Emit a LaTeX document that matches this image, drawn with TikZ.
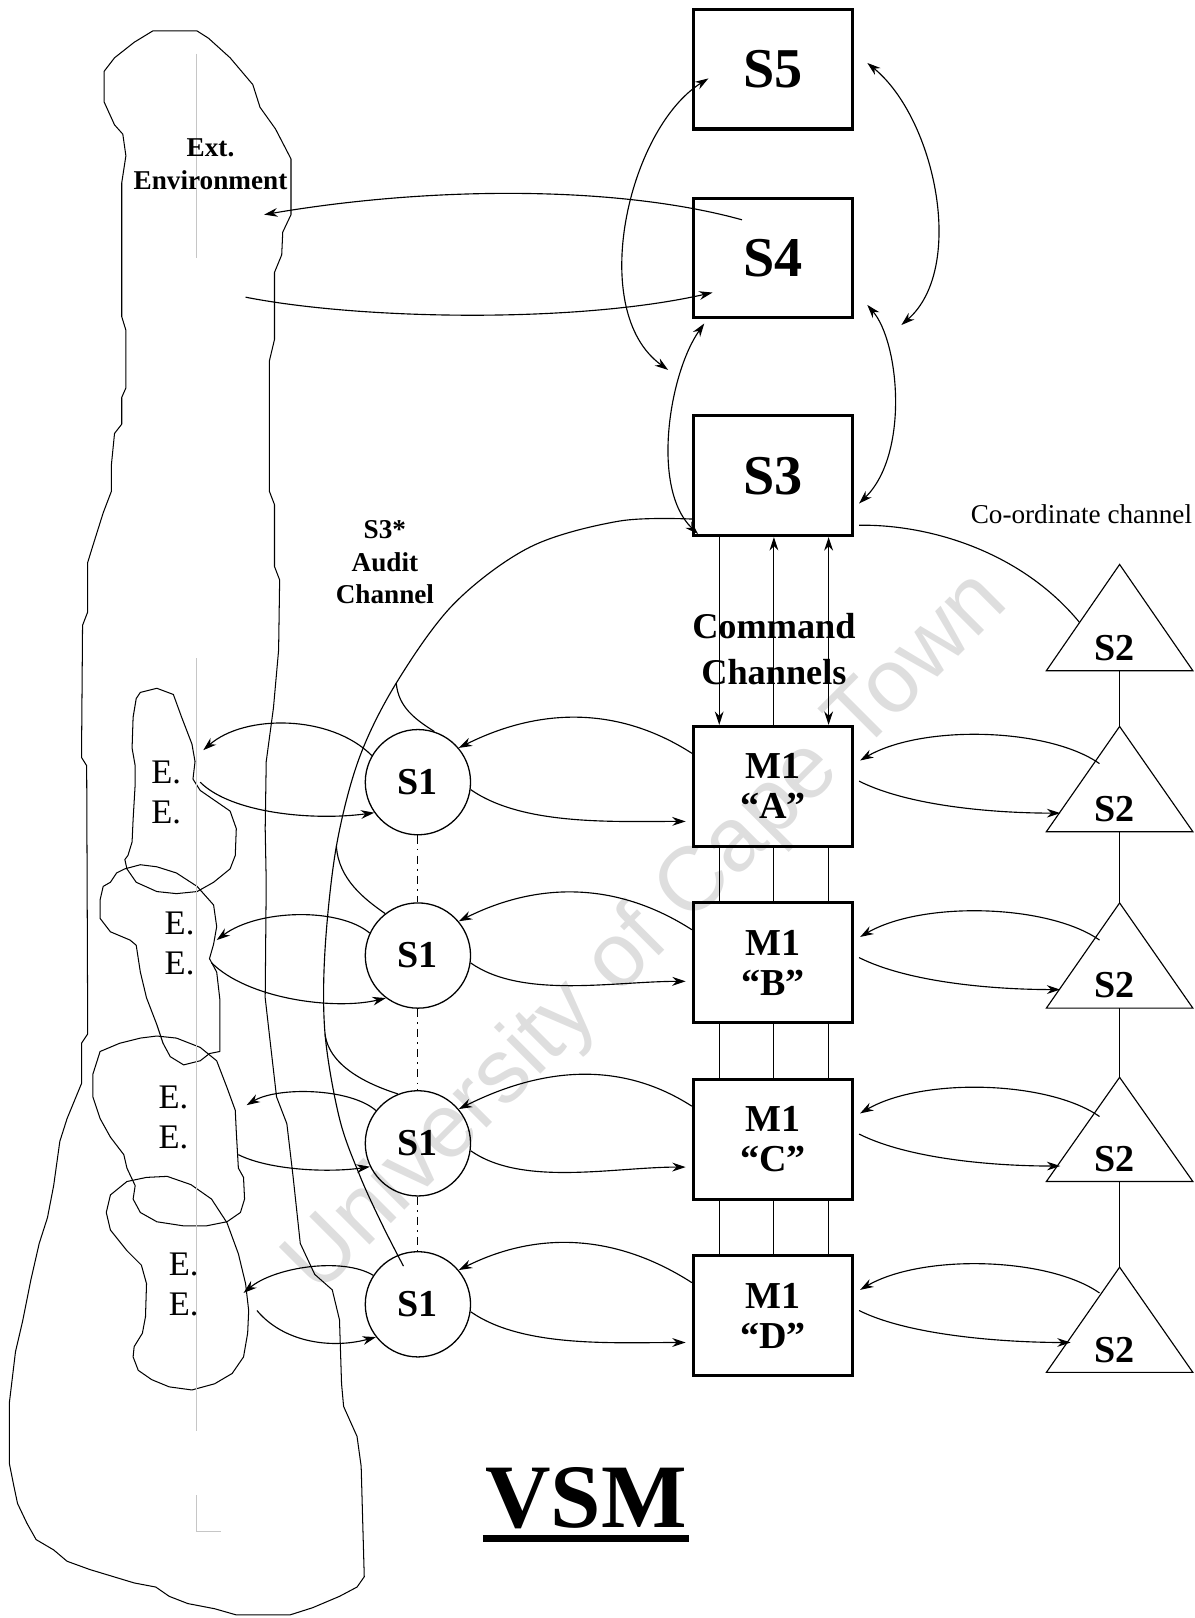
\documentclass[tikz,border=0pt]{standalone}
\usepackage{fontspec}
\setmainfont{Liberation Serif}
\newfontfamily\wmfont{Liberation Sans}
\usetikzlibrary{arrows.meta}

\tikzset{
  sysbox/.style={draw, line width=0.6mm, minimum width=30.8mm, minimum height=23.2mm,
    inner sep=0pt, align=center, font=\bfseries\fontsize{31}{31}\selectfont},
  opbox/.style={sysbox, font=\bfseries\fontsize{21}{22}\selectfont},
  unit/.style={circle, draw, line width=0.25mm, minimum size=20.4mm, inner sep=0pt,
    font=\bfseries\fontsize{21}{21}\selectfont},
  arr/.style={line width=0.22mm, -{Stealth[length=2.6mm, width=1.7mm]}},
  darr/.style={line width=0.22mm, {Stealth[length=2.6mm, width=1.7mm]}-{Stealth[length=2.6mm, width=1.7mm]}},
  link/.style={line width=0.22mm},
  unitlink/.style={line width=0.22mm, dash pattern=on 1.6mm off 1mm on 0.3mm off 1mm},
  tri/.style={line width=0.22mm, line join=miter},
  blob/.style={line width=0.2mm, line join=round},
  crop/.style={gray!45, line width=0.15mm},
  ee/.style={align=center, font=\fontsize{19}{22}\selectfont},
  note/.style={align=center, font=\bfseries\fontsize{15}{18}\selectfont},
  s2lbl/.style={font=\bfseries\fontsize{21}{21}\selectfont},
}

\begin{document}
\begin{tikzpicture}[x=0.2mm, y=-0.2mm]
  \useasboundingbox (0,0) rectangle (1158,1568);

  % watermark
  \node[rotate=45, text=black!13, font=\wmfont\fontsize{50}{50}\selectfont] (wm) at (628,905) {University of Cape Town};

  % external environment
  \draw[blob] (148,30) -- (191,30) -- (202,37) -- (223,56) -- (245,82) -- (252,104) -- (267,125)
    -- (282,154) -- (282,208) -- (274,225) -- (273,247) -- (266,264) -- (266,329) -- (261,350)
    -- (261,476) -- (266,489) -- (266,549) -- (271,562) -- (270,630) -- (265,686) -- (258,738)
    -- (257,803) -- (258,855) -- (257,967) -- (262,1011) -- (268,1063) -- (278,1089) -- (284,1140)
    -- (291,1205) -- (305,1235) -- (322,1250) -- (329,1279) -- (331,1341) -- (333,1363) -- (346,1392)
    -- (350,1421) -- (353,1528) -- (346,1538) -- (329,1547) -- (303,1558) -- (281,1565) -- (229,1565)
    -- (208,1559) -- (182,1554) -- (164,1547) -- (151,1538) -- (130,1534) -- (87,1521) -- (65,1513)
    -- (52,1502) -- (35,1492) -- (26,1476) -- (17,1457) -- (13,1438) -- (9,1418) -- (9,1360)
    -- (15,1310) -- (22,1280) -- (30,1240) -- (38,1205) -- (46,1180) -- (52,1149) -- (58,1106)
    -- (65,1084) -- (79,1050) -- (79,1011) -- (85,1002) -- (84,742) -- (79,734) -- (80,606)
    -- (85,593) -- (85,545) -- (89,532) -- (100,497) -- (108,476) -- (108,450) -- (111,420)
    -- (118,411) -- (118,385) -- (122,376) -- (122,320) -- (118,307) -- (118,177) -- (122,151)
    -- (119,130) -- (111,121) -- (101,99) -- (101,69) -- (111,56) -- (130,41) -- cycle;

  % local environments
  \draw[blob] (136,671) -- (152,667) -- (168,673) -- (176,695) -- (186,721) -- (189,738) -- (187,755)
    -- (194,766) -- (223,786) -- (229,803) -- (228,829) -- (223,842) -- (207,855) -- (191,864)
    -- (171,866) -- (152,864) -- (132,855) -- (123,842) -- (121,833) -- (124,829) -- (128,816)
    -- (129,794) -- (131,760) -- (131,742) -- (128,725) -- (129,695) -- (132,677) -- cycle;
  \draw[blob] (100,859) -- (107,855) -- (113,846) -- (121,842) -- (136,838) -- (152,840) -- (171,846)
    -- (191,859) -- (207,877) -- (210,898) -- (207,915) -- (203,929) -- (210,942) -- (213,968)
    -- (213,1019) -- (203,1021) -- (194,1028) -- (178,1032) -- (165,1024) -- (158,1011) -- (152,993)
    -- (142,967) -- (136,942) -- (132,916) -- (126,911) -- (107,903) -- (97,890) -- (97,872) -- cycle;
  \draw[blob] (90,1041) -- (97,1019) -- (116,1011) -- (136,1006) -- (152,1004) -- (171,1006) -- (194,1015)
    -- (210,1028) -- (220,1054) -- (228,1076) -- (229,1097) -- (231,1132) -- (236,1141) -- (237,1162)
    -- (233,1175) -- (220,1184) -- (200,1188) -- (178,1188) -- (152,1184) -- (136,1175) -- (129,1162)
    -- (131,1149) -- (123,1132) -- (120,1119) -- (107,1102) -- (97,1084) -- (90,1063) -- cycle;
  \draw[blob] (107,1158) -- (123,1145) -- (142,1141) -- (162,1140) -- (185,1148) -- (205,1162) -- (220,1185)
    -- (231,1215) -- (238,1244) -- (241,1270) -- (240,1292) -- (236,1315) -- (225,1331) -- (208,1341)
    -- (186,1347) -- (164,1344) -- (147,1337) -- (134,1328) -- (129,1315) -- (130,1305) -- (138,1292)
    -- (141,1276) -- (142,1244) -- (137,1226) -- (123,1212) -- (107,1192) -- (103,1175) -- cycle;

  % crop lines
  \draw[crop] (190,52) -- (190,250);
  \draw[crop] (190,638) -- (190,1387);
  \draw[crop] (190,1449) -- (190,1484) -- (214,1484);

  % labels of the environments
  \node[note] (ext) at (204,159) {Ext.\\Environment};
  \node[ee] (eeA) at (161,768) {E.\\E.};
  \node[ee] (eeB) at (174,914) {E.\\E.};
  \node[ee] (eeC) at (168,1083) {E.\\E.};
  \node[ee] (eeD) at (178,1245) {E.\\E.};

  % systems 5, 4, 3
  \node[sysbox] (s5) at (749,67) {S5};
  \node[sysbox] (s4) at (749,250) {S4};
  \node[sysbox] (s3) at (749,461) {S3};

  % operations
  \foreach \r/\ys/\ym in {A/758/762, B/926/933, C/1108/1104, D/1264/1275}{
    \node[opbox] (m1\r) at (749,\ym) {M1\\“\r”};
    \node[unit] (s1\r) at (405,\ys) {S1};
  }

  % co-ordination triangles
  \foreach \t/\ya/\yb in {1/547/650, 2/704/806, 3/875/977, 4/1044/1145, 5/1228/1330}{
    \draw[tri] (1085,\ya) coordinate (t\t) -- (1156,\yb) -- (1014,\yb) -- cycle;
    \coordinate (tb\t) at (1085,\yb);
    \node[s2lbl] (s2\t) at (1080,\yb-22) {S2};
  }
  \draw[link] (tb1) -- (t2);
  \draw[link] (tb2) -- (t3);
  \draw[link] (tb3) -- (t4);
  \draw[link] (tb4) -- (t5);

  % 5-4-3 loops
  \draw[darr] ([shift={(16,9)}]s5.west) .. controls +(-78,49) and +(-79,-57) .. ([shift={(-23,49)}]s4.south west);
  \draw[darr] ([shift={(12,4)}]s4.south west) .. controls +(-34,48) and +(-46,-44) .. ([shift={(6,-3)}]s3.south west);
  \draw[darr] ([shift={(13,-6)}]s5.east) .. controls +(66,54) and +(63,-55) .. ([shift={(46,65)}]s4.east);
  \draw[darr] ([shift={(13,-14)}]s4.south east) .. controls +(31,36) and +(49,-48) .. ([shift={(5,27)}]s3.east);

  % S4 and the outside
  \coordinate (extout) at (256,208);
  \coordinate (extin) at (238,288);
  \draw[arr] ([shift={(-30,-37)}]s4.center) .. controls +(-119,-33) and +(164,-28) .. (extout);
  \draw[arr] (extin) .. controls +(112,22) and +(-132,30) .. ([shift={(20,-26)}]s4.south west);

  % command channels
  \draw[arr] ([shift={(-52,0)}]s3.south) -- ([shift={(-52,0)}]m1A.north);
  \draw[arr] ([shift={(1,0)}]m1A.north) -- ([shift={(1,0)}]s3.south);
  \draw[darr] ([shift={(54,0)}]s3.south) -- ([shift={(54,0)}]m1A.north);
  \foreach \a/\b in {A/B, B/C, C/D}
    \foreach \dx in {-52,1,54}
      \draw[link] ([shift={(\dx,0)}]m1\a.south) -- ([shift={(\dx,0)}]m1\b.north);
  \node[align=center, font=\bfseries\fontsize{20}{25}\selectfont] (cmd) at (750,629) {Command\\Channels};

  % co-ordinate channel
  \coordinate (ccin) at (1046,603);
  \draw[link] ([shift={(5,48)}]s3.east) .. controls +(69,-1) and +(-56,-68) .. (ccin);
  \node[font=\fontsize{15}{18}\selectfont] (cclbl) at (1048,498) {Co-ordinate channel};

  % audit channel
  \coordinate (audA) at (384,662);
  \coordinate (audB) at (326,820);
  \coordinate (audC) at (315,1002);
  \draw[link] plot[smooth, tension=0.55] coordinates {([shift={(-14,-37)}]s1D.center) (371,1188) (349,1140)
    (329,1084) (audC) (315,920) (audB) (348,735) (audA) (440,585) (514,530) (600,505) ([shift={(0,42)}]s3.west)};
  \draw[link] (audA) .. controls +(2,23) and +(-19,-12) .. (s1A.72);
  \draw[link] (audB) .. controls +(2,32) and +(-20,-14) .. (s1B.128);
  \draw[link] (audC) .. controls +(4,33) and +(-25,-8) .. (s1C.112);
  \node[note] (audit) at (373,545) {S3*\\Audit\\Channel};

  % S1 units in a column
  \draw[unitlink] (s1A.south) -- (s1B.north);
  \draw[unitlink] (s1B.south) -- (s1C.north);
  \draw[unitlink] (s1C.south) -- (s1D.north);

  % management and co-ordination loops
  \foreach \r/\lo/\rx in {A/34/200, B/18/200, C/27/200, D/26/210}{
    \draw[arr] ([shift={(0,-32)}]m1\r.west) .. controls +(-70,-45) and +(80,-40) .. (s1\r.40);
    \draw[arr] (s1\r.-8) .. controls +(50,35) and +(-70,0) .. ([shift={(-6,\lo)}]m1\r.west);
    \draw[arr] ([shift={(238,-22)}]m1\r.east) .. controls +(-50,-35) and +(60,-35) .. ([shift={(6,-25)}]m1\r.east);
    \draw[arr] ([shift={(5,-5)}]m1\r.east) .. controls +(50,25) and +(-60,0) .. ([shift={(\rx,26)}]m1\r.east);
  }

  % S1 units and their environments
  \coordinate (eeAo) at (197,727);
  \coordinate (eeAi) at (194,758);
  \coordinate (eeBo) at (210,911);
  \coordinate (eeBi) at (205,933);
  \coordinate (eeCo) at (239,1071);
  \coordinate (eeCi) at (231,1119);
  \coordinate (eeDo) at (236,1253);
  \coordinate (eeDi) at (249,1270);
  \draw[arr] (s1A.150) .. controls +(-40,-40) and +(40,-35) .. (eeAo);
  \draw[arr] (eeAi) .. controls +(30,30) and +(-60,8) .. (s1A.215);
  \draw[arr] (s1B.155) .. controls +(-30,-25) and +(40,-30) .. (eeBo);
  \draw[arr] (eeBi) .. controls +(35,35) and +(-50,12) .. (s1B.233);
  \draw[arr] (s1C.142) .. controls +(-25,-22) and +(30,-18) .. (eeCo);
  \draw[arr] (eeCi) .. controls +(30,15) and +(-40,6) .. (s1C.206);
  \draw[arr] (s1D.147) .. controls +(-30,-18) and +(30,-25) .. (eeDo);
  \draw[arr] (eeDi) .. controls +(25,30) and +(-45,12) .. (s1D.218);

  % title
  \node[anchor=base, inner sep=0pt, font=\bfseries\fontsize{50}{50}\selectfont] (vsm) at (568,1480) {VSM};
  \draw[line width=1.4mm] ([shift={(-2,11)}]vsm.base west) -- ([shift={(2,11)}]vsm.base east);
\end{tikzpicture}
\end{document}
